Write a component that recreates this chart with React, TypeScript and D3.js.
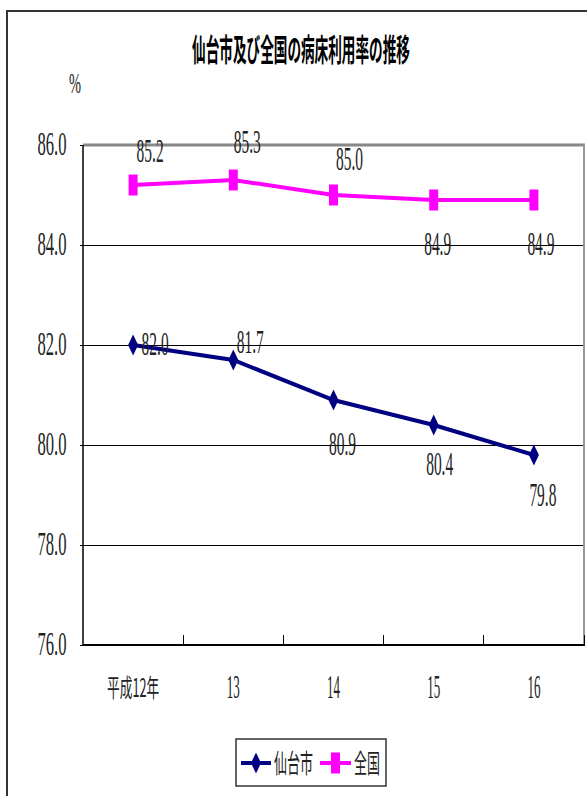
import React from "react";
import * as d3 from "d3";

const categories = ["平成12年", "13", "14", "15", "16"];
const sendaiValues = [82.0, 81.7, 80.9, 80.4, 79.8];
const nationalValues = [85.2, 85.3, 85.0, 84.9, 84.9];
const yTicks = [76, 78, 80, 82, 84, 86];
const seriesNames = ["仙台市", "全国"];
const titleText = "仙台市及び全国の病床利用率の推移";

// label placement (dx from marker to label centre, dy from marker to baseline)
const sendaiLabelOffsets = [[22, 10], [17, -7], [9, 55], [6, 50], [9, 51]];
const nationalLabelOffsets = [[17, -23], [14, -27], [16, -25], [4, 55], [7, 55]];

const W = 587;
const H = 796;
const NAVY = "#000080";
const PINK = "#FF00FF";
const SERIF = "'Liberation Serif', serif";
const CJK = "'Noto Sans CJK JP', 'Noto Sans', sans-serif";
const TXT = "#222";

const plot = { left: 83, right: 584, top: 145, bottom: 645 };

function diamond(cx: number, cy: number, w: number, h: number) {
  return `M${cx},${cy - h / 2}L${cx + w / 2},${cy}L${cx},${cy + h / 2}L${cx - w / 2},${cy}Z`;
}

function Num({ x, y, text, w = 27 }: { x: number; y: number; text: string; w?: number }) {
  return (
    <text
      x={x}
      y={y}
      textAnchor="middle"
      style={{ fontFamily: SERIF }}
      fontSize={33}
      textLength={w}
      lengthAdjust="spacingAndGlyphs"
      fill={TXT}
    >
      {text}
    </text>
  );
}

export default function App() {
  const x = d3.scaleBand<string>().domain(categories).range([plot.left, plot.right]);
  const cx = (c: string) => (x(c) as number) + x.bandwidth() / 2;
  const y = d3.scaleLinear().domain([76, 86]).range([plot.bottom, plot.top]);
  const line = d3
    .line<number>()
    .x((_, i) => cx(categories[i]))
    .y((d) => y(d));

  const fmt = d3.format(".1f");
  const boundaries = categories.map((c) => (x(c) as number) + x.bandwidth());

  const titleSize = 31;
  const titleScale = 218 / (titleText.length * titleSize);

  return (
    <svg
      width={W}
      height={H}
      style={{ position: "absolute", left: 0, top: 0, background: "#fff" }}
    >
      {/* outer chart border */}
      <rect x={7} y={11} width={W + 20} height={H + 20} fill="#fff" stroke="#333" strokeWidth={2} />

      {/* title */}
      <text
        transform={`translate(301,61) scale(${titleScale},1)`}
        textAnchor="middle"
        style={{ fontFamily: CJK }}
        fontWeight="bold"
        fontSize={titleSize}
        fill="#000"
      >
        {titleText}
      </text>

      {/* unit */}
      <text
        x={75}
        y={93}
        textAnchor="middle"
        style={{ fontFamily: SERIF }}
        fontSize={30}
        textLength={12}
        lengthAdjust="spacingAndGlyphs"
        fill={TXT}
      >
        %
      </text>

      {/* gridlines */}
      {yTicks
        .filter((t) => t !== 76 && t !== 86)
        .map((t) => (
          <line
            key={t}
            x1={plot.left}
            x2={plot.right}
            y1={y(t) + 0.5}
            y2={y(t) + 0.5}
            stroke="#000"
            strokeWidth={1}
            shapeRendering="crispEdges"
          />
        ))}

      {/* plot frame */}
      <line x1={plot.left} x2={plot.right + 1} y1={plot.top} y2={plot.top} stroke="#888" strokeWidth={3} />
      <line x1={plot.right} x2={plot.right} y1={plot.top} y2={plot.bottom} stroke="#999" strokeWidth={2} />
      <line x1={plot.left} x2={plot.left} y1={plot.top} y2={plot.bottom + 1} stroke="#000" strokeWidth={1.5} />
      <line x1={plot.left} x2={plot.right + 1} y1={plot.bottom} y2={plot.bottom} stroke="#000" strokeWidth={2} />

      {/* y ticks & labels */}
      {yTicks.map((t) => (
        <g key={t}>
          <line x1={plot.left - 3} x2={plot.left} y1={y(t) + 0.5} y2={y(t) + 0.5} stroke="#000" strokeWidth={1} shapeRendering="crispEdges" />
          <Num x={52} y={y(t) + 10} text={fmt(t)} w={29} />
        </g>
      ))}

      {/* x ticks */}
      {boundaries.map((b, i) => (
        <line key={i} x1={b} x2={b} y1={plot.bottom} y2={plot.bottom - 10} stroke="#000" strokeWidth={1} shapeRendering="crispEdges" />
      ))}

      {/* x labels */}
      {categories.map((c, i) =>
        i === 0 ? (
          <text
            key={c}
            x={cx(c)}
            y={697}
            textAnchor="middle"
            style={{ fontFamily: CJK }}
            fontSize={25}
            textLength={52}
            lengthAdjust="spacingAndGlyphs"
            fill={TXT}
          >
            {c}
          </text>
        ) : (
          <Num key={c} x={cx(c)} y={698} text={c} w={13} />
        )
      )}

      {/* series: national */}
      <path d={line(nationalValues) || ""} fill="none" stroke={PINK} strokeWidth={4} />
      {nationalValues.map((v, i) => (
        <rect
          key={i}
          x={cx(categories[i]) - 4.5}
          y={y(v) - 10.5}
          width={9}
          height={21}
          fill={PINK}
        />
      ))}

      {/* series: sendai */}
      <path d={line(sendaiValues) || ""} fill="none" stroke={NAVY} strokeWidth={4} />
      {sendaiValues.map((v, i) => (
        <path key={i} d={diamond(cx(categories[i]), y(v), 10, 21)} fill={NAVY} />
      ))}

      {/* data labels */}
      {nationalValues.map((v, i) => (
        <Num
          key={"n" + i}
          x={cx(categories[i]) + nationalLabelOffsets[i][0]}
          y={y(v) + nationalLabelOffsets[i][1]}
          text={fmt(v)}
        />
      ))}
      {sendaiValues.map((v, i) => (
        <Num
          key={"s" + i}
          x={cx(categories[i]) + sendaiLabelOffsets[i][0]}
          y={y(v) + sendaiLabelOffsets[i][1]}
          text={fmt(v)}
        />
      ))}

      {/* legend */}
      <g>
        <rect x={236} y={739} width={150} height={47} fill="#fff" stroke="#333" strokeWidth={1.5} />
        <line x1={241} x2={271} y1={763} y2={763} stroke={NAVY} strokeWidth={4} />
        <path d={diamond(256, 763, 10, 21)} fill={NAVY} />
        <text
          x={274}
          y={773}
          style={{ fontFamily: CJK }}
          fontSize={26}
          textLength={39}
          lengthAdjust="spacingAndGlyphs"
          fill={TXT}
        >
          {seriesNames[0]}
        </text>
        <line x1={320} x2={351} y1={763} y2={763} stroke={PINK} strokeWidth={4} />
        <rect x={331} y={752.5} width={9} height={21} fill={PINK} />
        <text
          x={354}
          y={773}
          style={{ fontFamily: CJK }}
          fontSize={26}
          textLength={26}
          lengthAdjust="spacingAndGlyphs"
          fill={TXT}
        >
          {seriesNames[1]}
        </text>
      </g>
    </svg>
  );
}
